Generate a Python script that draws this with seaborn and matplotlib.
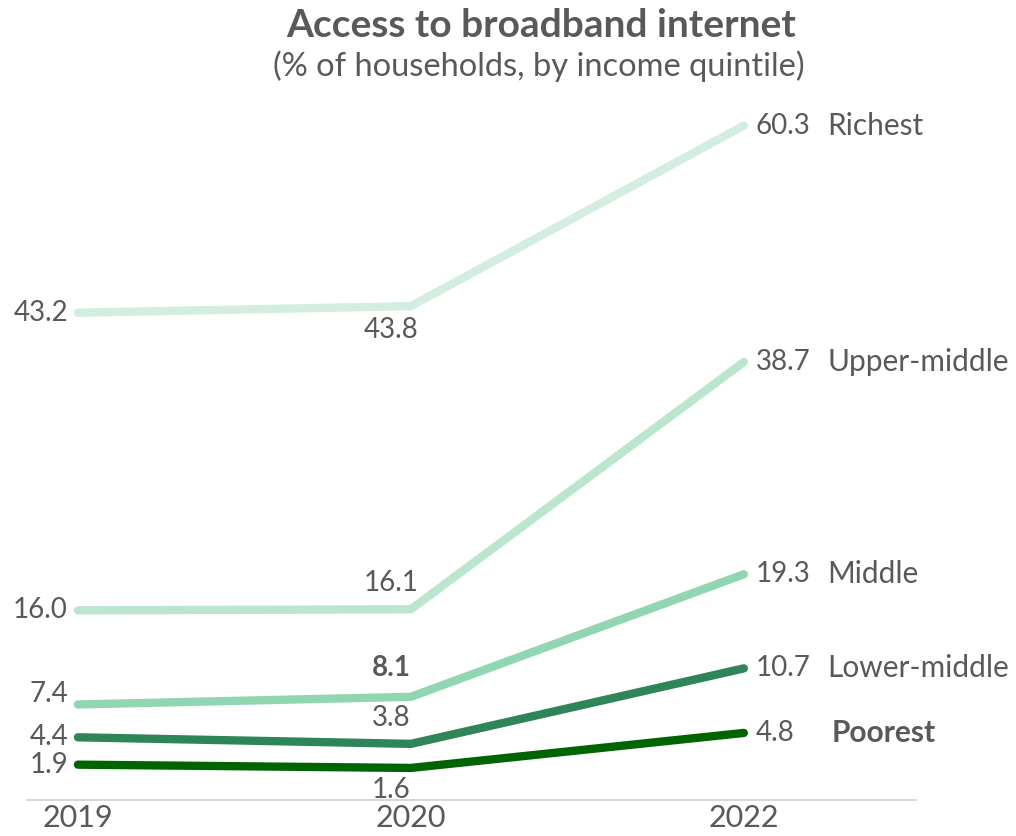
import matplotlib
matplotlib.use("Agg")
import matplotlib.pyplot as plt
import seaborn as sns
import pandas as pd

years = ["2019", "2020", "2022"]
groups = ["Richest", "Upper-middle", "Middle", "Lower-middle", "Poorest"]
richest = [43.2, 43.8, 60.3]
upper_middle = [16.0, 16.1, 38.7]
middle = [7.4, 8.1, 19.3]
lower_middle = [4.4, 3.8, 10.7]
poorest = [1.9, 1.6, 4.8]
colors = ["#d3eee0", "#b9e6cd", "#90d6b1", "#2e8558", "#006400"]

series = [richest, upper_middle, middle, lower_middle, poorest]
rows = []
for g, vals in zip(groups, series):
    for y, v in zip(years, vals):
        rows.append({"year": y, "group": g, "value": v})
df = pd.DataFrame(rows)

sns.set_theme(style="white")
plt.rcParams["font.family"] = ["Lato", "DejaVu Sans"]
TXT = "#595959"

fig = plt.figure(figsize=(10.16, 8.36), dpi=100)
ax = fig.add_axes([27/1016, 36/836, (916-27)/1016, (800-107)/836])

sns.lineplot(data=df, x="year", y="value", hue="group", hue_order=groups,
             palette=colors, linewidth=6, legend=False, ax=ax,
             solid_capstyle="round", solid_joinstyle="miter", sort=False)

ax.set_xlim(-0.153, 2.517)
ax.set_ylim(-1.33, 62)
ax.set_yticks([])
ax.set_xlabel("")
ax.set_ylabel("")
for s in ["top", "right", "left"]:
    ax.spines[s].set_visible(False)
ax.spines["bottom"].set_color("#d0d0d0")
ax.spines["bottom"].set_linewidth(1.2)
ax.tick_params(axis="x", length=0, labelsize=22, labelcolor=TXT, pad=3)

fs = 20
fs_name = 21.5
# 2019 labels (left of start)
left_offsets = [0, 0, 1.0, 0, 0]
for vals, off in zip(series, left_offsets):
    ax.text(-0.03, vals[0] + off, f"{vals[0]:.1f}", ha="right", va="center",
            fontsize=fs, color=TXT)
# 2020 labels
mid_offsets = [-2.2, 2.4, 2.6, 2.4, -2.0]
for i, (vals, off) in enumerate(zip(series, mid_offsets)):
    ax.text(0.94, vals[1] + off, f"{vals[1]:.1f}", ha="center", va="center",
            fontsize=fs, color=TXT, fontweight="bold" if i == 2 else "normal")
# 2022 labels
for i, (g, vals) in enumerate(zip(groups, series)):
    ax.text(2.035, vals[2], f"{vals[2]:.1f}", ha="left", va="center",
            fontsize=fs, color=TXT)
    ax.text(2.25 if g != "Poorest" else 2.265, vals[2], g, ha="left", va="center",
            fontsize=fs_name, color=TXT, fontweight="bold" if g == "Poorest" else "normal")

fig.text(0.533, 0.970, "Access to broadband internet", ha="center", va="center",
         fontsize=28, fontweight="bold", color=TXT)
fig.text(0.53, 0.921, "(% of households, by income quintile)", ha="center",
         va="center", fontsize=23.5, color=TXT)

fig.savefig("out.png", dpi=100, facecolor="white")
